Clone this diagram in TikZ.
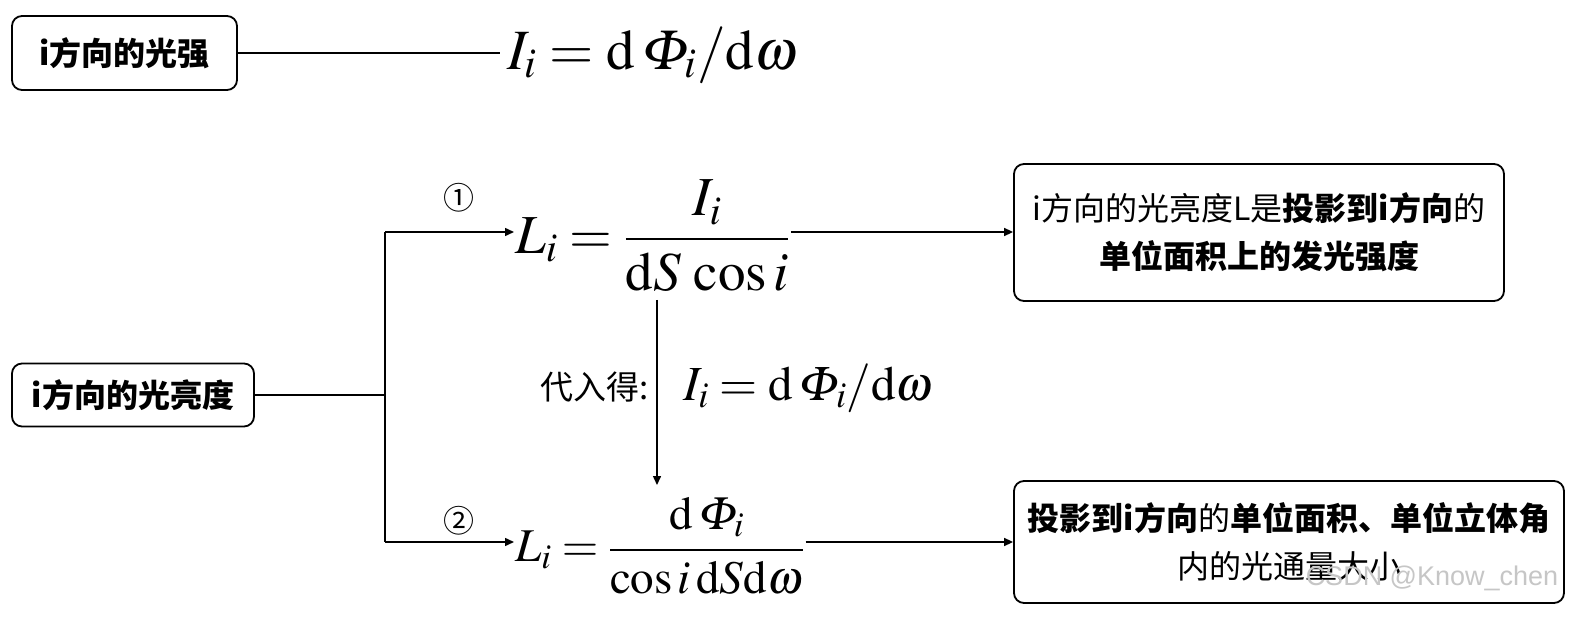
\documentclass[tikz,border=0pt]{standalone}
\usepackage{fontspec}
\usepackage{mathptmx}
\usetikzlibrary{arrows.meta}
\DeclareMathSymbol{\itPhi}{\mathord}{letters}{"08}
\newfontfamily\cjk{Noto Sans CJK SC}
\newfontfamily\wmfont{Liberation Sans}
\begin{document}
\begin{tikzpicture}[x=1pt,y=-1pt,
  boxnode/.style={draw, line width=1.8pt, rounded corners=10pt, inner sep=0pt, align=center,
    font=\cjk\fontsize{32}{48}\selectfont},
  formula/.style={inner sep=1pt},
  conn/.style={line width=1.5pt},
  arr/.style={conn, -{Triangle[length=9pt,width=8pt]}},
  circnum/.style={inner sep=0pt, font=\cjk\fontsize{31}{31}\selectfont}]
\useasboundingbox[fill=white] (0,0) rectangle (1577,617);

\node[boxnode, minimum width=225pt, minimum height=74pt] (b1) at (124.5,53) {\bfseries i方向的光强};
\node[boxnode, minimum width=242pt, minimum height=63pt] (b2) at (133,395) {\bfseries i方向的光亮度};
\node[boxnode, minimum width=490pt, minimum height=137pt] (b3) at (1259,232.5)
  {i方向的光亮度L是\textbf{投影到i方向}的\\\textbf{单位面积上的发光强度}};
\node[boxnode, minimum width=550pt, minimum height=122pt] (b4) at (1289,542)
  {\textbf{投影到i方向}的\textbf{单位面积、单位立体角}\\内的光通量大小};

\node[formula, anchor=west, font=\fontsize{57}{64}\selectfont] (f0) at (506,55)
  {$I_i = \mathrm{d}\,\itPhi_i/\mathrm{d}\omega$};
\node[formula, anchor=west, font=\fontsize{55}{64}\selectfont] (f1) at (514,236)
  {$\displaystyle L_i = \frac{I_i}{\mathrm{d}S\,\cos i}$};
\node[formula, anchor=west, font=\fontsize{49}{60}\selectfont] (fm) at (682,388)
  {$I_i = \mathrm{d}\,\itPhi_i/\mathrm{d}\omega$};
\node[formula, anchor=west, font=\fontsize{47}{60}\selectfont] (f2) at (514,546)
  {$\displaystyle L_i = \frac{\mathrm{d}\,\itPhi_i}{\cos i\,\mathrm{d}S\mathrm{d}\omega}$};

\node[circnum] (c1) at (459,198) {①};
\node[circnum] (c2) at (459,521) {②};
\node[inner sep=0pt, font=\cjk\fontsize{33}{33}\selectfont] (sub) at (595,387) {代入得:};
\node[inner sep=0pt, text=gray!45, font=\wmfont\fontsize{27}{27}\selectfont] (wm) at (1432,578) {CSDN @Know\_chen};

\coordinate (jt) at (385,232);
\coordinate (jm) at (385,395);
\coordinate (jb) at (385,542);
\coordinate (va) at (657,300);
\coordinate (vb) at (657,485);

\draw[conn] (b1.east) -- (500,53);
\draw[conn] (b2.east |- jm) -- (jm);
\draw[conn] (jt) -- (jb);
\draw[arr] (jt) -- (jt -| f1.west);
\draw[arr] (jb) -- (jb -| f2.west);
\draw[arr] (jt -| f1.east) -- (jt -| b3.west);
\draw[arr] (jb -| f2.east) -- (jb -| b4.west);
\draw[arr] (va) -- (vb);
\end{tikzpicture}
\end{document}
